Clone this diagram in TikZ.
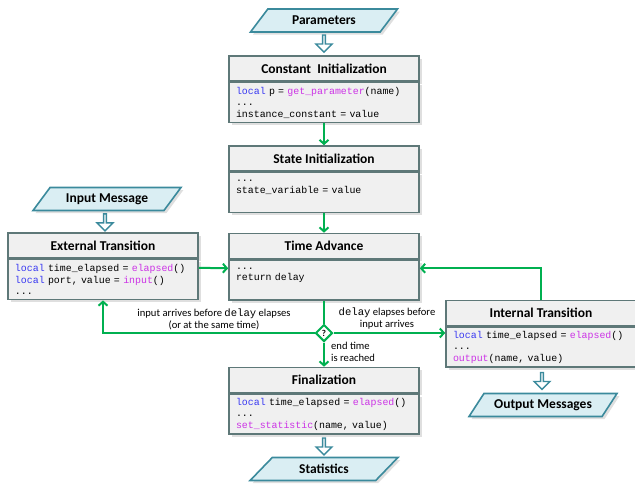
\documentclass[tikz,border=0pt]{standalone}
\usepackage{fontspec}
\setmainfont{Carlito}
\setmonofont{Liberation Mono}
\usepackage{tikz}
\usetikzlibrary{positioning}
\usetikzlibrary{arrows.meta}
\usetikzlibrary{shapes.geometric, shapes.arrows, shadows, calc}
\usepackage{xcolor}

\definecolor{boxline}{HTML}{5E7878}
\definecolor{boxfill}{HTML}{F0F0F0}
\definecolor{ioline}{HTML}{3B8A9C}
\definecolor{iofill}{HTML}{DAEEF3}
\definecolor{flowgreen}{HTML}{00B050}
\definecolor{kwblue}{HTML}{3A3AF2}
\definecolor{fnpink}{HTML}{CC33E6}

\newcommand{\kw}[1]{\textcolor{kwblue}{#1}}
\newcommand{\fn}[1]{\textcolor{fnpink}{#1}}

\tikzset{
  shade/.style={drop shadow={shadow xshift=2.5pt, shadow yshift=-2.5pt, opacity=0.25}},
  boxhead/.style={draw=boxline, fill=boxfill, line width=1.6pt, shade,
    minimum width=190pt, minimum height=25pt, inner sep=0pt,
    font=\fontsize{13.5}{15}\selectfont\bfseries},
  boxcode/.style={draw=boxline, fill=boxfill, line width=1.6pt, shade,
    minimum width=190pt, minimum height=40pt, inner xsep=7pt, inner ysep=2pt,
    text width=176pt, align=left, anchor=north,
    font=\fontsize{9.9}{11.5}\selectfont\ttfamily},
  iobox/.style={trapezium, trapezium left angle=42, trapezium right angle=138,
    trapezium stretches=true, draw=ioline, fill=iofill, line width=1.6pt, shade,
    minimum width=148pt, minimum height=23pt, inner sep=0pt,
    font=\fontsize{13.5}{15}\selectfont\bfseries},
  hollow/.style={single arrow, draw=ioline, fill=white, line width=1.4pt,
    rotate=-90, minimum height=17pt, minimum width=16pt, inner sep=0pt,
    single arrow head extend=3.5pt},
  flow/.style={draw=flowgreen, line width=2pt, -{Straight Barb[length=4pt,width=9pt]}},
  plainflow/.style={draw=flowgreen, line width=2pt},
  choice/.style={diamond, draw=flowgreen, fill=white, line width=2pt,
    minimum size=17pt, inner sep=0pt, font=\fontsize{9}{10}\selectfont\bfseries},
  note/.style={align=center, font=\fontsize{10.6}{12}\selectfont, inner sep=0pt}
}

\begin{document}
\begin{tikzpicture}[x=1pt, y=-1pt]
  \useasboundingbox (0,0) rectangle (635,485);

  % Parameters and constants
  \node[iobox] (params) at (324,20.5) {Parameters};
  \node[boxhead] (cinit) at (324,68.5) {Constant\ \ Initialization};
  \node[boxcode, below=0pt of cinit] (cinit-code)
    {\kw{local} p = \fn{get\_parameter}(name)\\...\\instance\_constant = value};
  \node[hollow] at ($(params.south)!0.45!(cinit.north)$) {};

  % State
  \node[boxhead] (sinit) at (324,158.5) {State Initialization};
  \node[boxcode, below=0pt of sinit] (sinit-code)
    {...\\state\_variable = value\\\mbox{}};

  % Time advance
  \node[boxhead] (tadv) at (324,246) {Time Advance};
  \node[boxcode, below=0pt of tadv] (tadv-code)
    {...\\return delay\\\mbox{}};

  % External transition
  \node[iobox] (input) at (107,199) {Input Message};
  \node[boxhead] (ext) at (103,245.5) {External Transition};
  \node[boxcode, below=0pt of ext] (ext-code)
    {\kw{local} time\_elapsed = \fn{elapsed}()\\\kw{local} port, value = \fn{input}()\\...};
  \node[hollow] at ($(input.south)!0.5!(ext.north)$) {};

  % Internal transition
  \node[boxhead] (int) at (541,313) {Internal Transition};
  \node[boxcode, below=0pt of int] (int-code)
    {\kw{local} time\_elapsed = \fn{elapsed}()\\...\\\fn{output}(name, value)};
  \node[iobox] (output) at (543,405) {Output Messages};
  \node[hollow] at ($(int-code.south)!0.5!(output.north)$) {};

  % Finalization
  \node[boxhead] (fin) at (324,380) {Finalization};
  \node[boxcode, below=0pt of fin] (fin-code)
    {\kw{local} time\_elapsed = \fn{elapsed}()\\...\\\fn{set\_statistic}(name, value)};
  \node[iobox] (stats) at (324,469) {Statistics};
  \node[hollow] at ($(fin-code.south)!0.5!(stats.north)$) {};

  % Decision
  \node[choice] (dec) at (324,333) {?};
  \node[note] (lbl-ext) at (214,319) {input arrives before \texttt{delay} elapses\\(or at the same time)};
  \node[note] (lbl-int) at (387,319) {\texttt{delay} elapses before\\input arrives};
  \node[note, align=left, anchor=west] (lbl-end) at (331,352) {end time\\is reached};

  % Flow
  \draw[flow] (cinit-code.south) -- (sinit.north);
  \draw[flow] (sinit-code.south) -- (tadv.north);
  \draw[flow] ([yshift=-9pt]ext-code.north east) -- ([yshift=-9pt]tadv-code.north west);
  \draw[flow] (int.north) |- ([yshift=-9pt]tadv-code.north east);
  \draw[plainflow] (tadv-code.south) -- (dec.north);
  \draw[flow] (dec.west) -| (ext-code.south);
  \draw[flow] (dec.east) -- (dec.east -| int-code.west);
  \draw[flow] (dec.south) -- (fin.north);
\end{tikzpicture}
\end{document}
